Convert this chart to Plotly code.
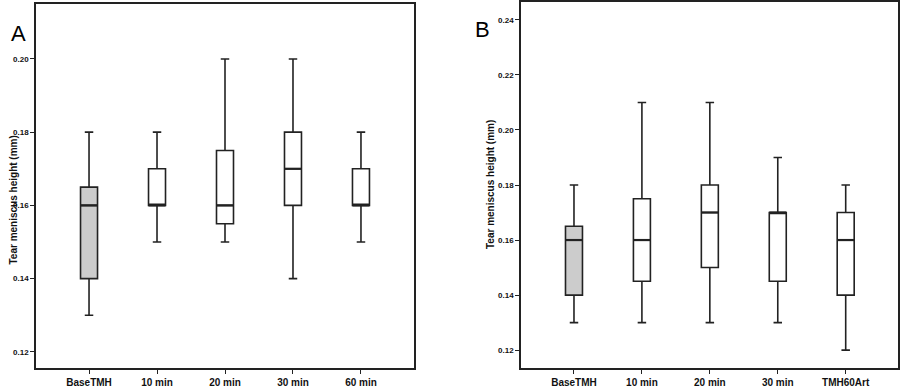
import plotly.graph_objects as go

# ---- Panel A data ----
categories_a = ["BaseTMH", "10 min", "20 min", "30 min", "60 min"]
min_a = [0.13, 0.15, 0.15, 0.14, 0.15]
q1_a = [0.14, 0.16, 0.155, 0.16, 0.16]
med_a = [0.16, 0.16, 0.16, 0.17, 0.16]
q3_a = [0.165, 0.17, 0.175, 0.18, 0.17]
max_a = [0.18, 0.18, 0.20, 0.20, 0.18]
yticks_a = [0.12, 0.14, 0.16, 0.18, 0.20]

# ---- Panel B data ----
categories_b = ["BaseTMH", "10 min", "20 min", "30 min", "TMH60Art"]
min_b = [0.13, 0.13, 0.13, 0.13, 0.12]
q1_b = [0.14, 0.145, 0.15, 0.145, 0.14]
med_b = [0.16, 0.16, 0.17, 0.17, 0.16]
q3_b = [0.165, 0.175, 0.18, 0.17, 0.17]
max_b = [0.18, 0.21, 0.21, 0.19, 0.18]
yticks_b = [0.12, 0.14, 0.16, 0.18, 0.20, 0.22, 0.24]

ytitle = "Tear meniscus height (mm)"

LINE = "#222222"
TXT = "#111111"
GREY = "#cccccc"
BW = 0.25
FONT = "Liberation Sans, Arial, sans-serif"
W, H = 900, 389

fig = go.Figure()


def add_panel(cats, mn, q1, md, q3, mx, xa, ya):
    for i, c in enumerate(cats):
        fig.add_trace(go.Box(
            x=[i], q1=[q1[i]], median=[md[i]], q3=[q3[i]],
            lowerfence=[mn[i]], upperfence=[mx[i]],
            width=BW, whiskerwidth=0.5,
            fillcolor=GREY if i == 0 else "white",
            line=dict(color=LINE, width=1.6),
            boxpoints=False, showlegend=False, hoverinfo="skip",
            xaxis=xa, yaxis=ya,
        ))
        # thicker median line, derived from the data
        fig.add_trace(go.Scatter(
            x=[i - BW / 2, i + BW / 2], y=[md[i], md[i]],
            mode="lines", line=dict(color=LINE, width=2.2),
            showlegend=False, hoverinfo="skip", xaxis=xa, yaxis=ya,
        ))


add_panel(categories_a, min_a, q1_a, med_a, q3_a, max_a, "x", "y")
add_panel(categories_b, min_b, q1_b, med_b, q3_b, max_b, "x2", "y2")

axis_common = dict(
    showgrid=False, zeroline=False, showline=True, mirror=True,
    linecolor=LINE, linewidth=1.6, ticks="outside", ticklen=4,
    tickcolor=LINE, tickwidth=1,
)

xfont = dict(size=10, color=TXT, family=FONT, weight="bold")
yfont = dict(size=8, color=TXT, family=FONT, weight="bold")


def px_dom_x(a, b):
    return [a / W, b / W]


def px_dom_y(top, bottom):
    return [1 - bottom / H, 1 - top / H]


fig.update_layout(
    width=W, height=H,
    margin=dict(l=0, r=0, t=0, b=0, autoexpand=False),
    plot_bgcolor="white", paper_bgcolor="white",
    font=dict(family=FONT, color=TXT),
    xaxis=dict(domain=px_dom_x(36, 414), range=[-0.78, 4.78],
               tickvals=list(range(len(categories_a))), ticktext=categories_a,
               tickfont=xfont, anchor="y", **axis_common),
    yaxis=dict(domain=px_dom_y(4, 368), range=[0.1156, 0.215],
               tickvals=yticks_a, tickformat=".2f",
               tickfont=yfont, anchor="x", **axis_common),
    xaxis2=dict(domain=px_dom_x(521, 898), range=[-0.78, 4.77],
                tickvals=list(range(len(categories_b))), ticktext=categories_b,
                tickfont=xfont, anchor="y2", **axis_common),
    yaxis2=dict(domain=px_dom_y(2, 368), range=[0.1135, 0.2465],
                tickvals=yticks_b, tickformat=".2f",
                tickfont=yfont, anchor="x2", **axis_common),
    annotations=[
        dict(text=ytitle, x=5 / W, y=1 - 200 / H,
             xref="paper", yref="paper", showarrow=False, textangle=-90,
             font=dict(size=10, color=TXT, family=FONT, weight="bold")),
        dict(text=ytitle, x=490 / W, y=1 - 184 / H,
             xref="paper", yref="paper", showarrow=False, textangle=-90,
             font=dict(size=10, color=TXT, family=FONT, weight="bold")),
        dict(text="A", x=9 / W, y=1 - 19 / H, xref="paper", yref="paper",
             showarrow=False, font=dict(size=22, color="black", family=FONT)),
        dict(text="B", x=483 / W, y=1 - 15 / H, xref="paper", yref="paper",
             showarrow=False, font=dict(size=22, color="black", family=FONT)),
    ],
)

fig.write_html("out.html",
               config={"displayModeBar": False},
               post_script="document.body.style.margin='0';document.body.style.overflow='hidden';")
